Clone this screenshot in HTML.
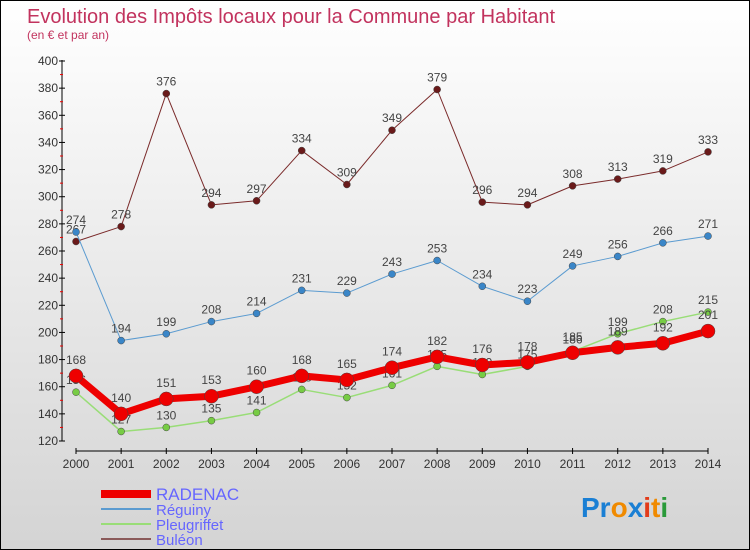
<!DOCTYPE html>
<html><head><meta charset="utf-8"><style>
body{margin:0}
#c{width:748px;height:548px;border:1px solid #000;background:linear-gradient(#fff,#d4d4d4);position:relative;overflow:hidden;font-family:"Liberation Sans",sans-serif}
</style></head><body>
<div id="c">
<svg id="s" width="748" height="548" xmlns="http://www.w3.org/2000/svg">
<text x="26" y="22" font-size="20" fill="#c2335e">Evolution des Impôts locaux pour la Commune par Habitant</text>
<text x="26" y="38" font-size="12" fill="#c2335e">(en € et par an)</text>
<g id="g"></g>
<text x="580" y="516" font-size="28" font-weight="bold"><tspan fill="#1a7fd4">Pr</tspan><tspan fill="#f08a00">o</tspan><tspan fill="#1a7fd4">x</tspan><tspan fill="#e23b1a">i</tspan><tspan fill="#f08a00">t</tspan><tspan fill="#2a9a3a">i</tspan></text>
</svg></div>
<script>
const years=[2000,2001,2002,2003,2004,2005,2006,2007,2008,2009,2010,2011,2012,2013,2014];
const buleon=[267,278,376,294,297,334,309,349,379,296,294,308,313,319,333];
const reguiny=[274,194,199,208,214,231,229,243,253,234,223,249,256,266,271];
const pleugriffet=[156,127,130,135,141,158,152,161,175,169,175,186,199,208,215];
const radenac=[168,140,151,153,160,168,165,174,182,176,178,185,189,192,201];
const yTicks=[120,140,160,180,200,220,240,260,280,300,320,340,360,380,400];
const NS="http://www.w3.org/2000/svg";
const g=document.getElementById('g');
const X=i=>75+i*(707-75)/(years.length-1);
const Y=v=>440-(v-120)*(380/280);
function el(t,a){const e=document.createElementNS(NS,t);for(const k in a)e.setAttribute(k,a[k]);g.appendChild(e);return e;}
let e=el('line',{x1:61,y1:59,x2:61,y2:440,stroke:'#000'});

yTicks.forEach((v,i)=>{
 let t=el('line',{x1:58,x2:64,y1:Y(v),y2:Y(v),stroke:'#000'});
 
 if(i<yTicks.length-1){let m=el('line',{x1:59,x2:62,y1:Y(v+10),y2:Y(v+10),stroke:'#e00'});
 }
 let l=el('text',{x:57,y:Y(v)+4,'font-size':12,'text-anchor':'end',fill:'#333'});l.textContent=v;
 
});
e=el('line',{x1:75,y1:450,x2:707,y2:450,stroke:'#000'});

years.forEach((y,i)=>{
 let t=el('line',{x1:X(i),x2:X(i),y1:447,y2:453,stroke:'#000'});
 
 let l=el('text',{x:X(i),y:467,'font-size':12,'text-anchor':'middle',fill:'#333'});l.textContent=y;
 
});
const series=[
 {n:'buleon',d:buleon,c:'#7a2a2a',f:'#6a1a1a',w:1,r:3.5},
 {n:'reguiny',d:reguiny,c:'#5b9bd0',f:'#3a86c8',w:1,r:3.5},
 {n:'pleugriffet',d:pleugriffet,c:'#99dd77',f:'#77cc44',w:1.5,r:3.5},
 {n:'radenac',d:radenac,c:'#ee0000',f:'#ee0000',w:7,r:7}];
series.forEach(s=>{
 let p=el('polyline',{points:s.d.map((v,i)=>X(i)+','+Y(v)).join(' '),fill:'none',stroke:s.c,'stroke-width':s.w,'stroke-linejoin':'round'});
 
 s.d.forEach((v,i)=>{
  let c=el('circle',{cx:X(i),cy:Y(v),r:s.r,fill:s.f,stroke:'#444','stroke-width':0.5});
  
  let l=el('text',{x:X(i),y:Y(v)-(s.n==='radenac'?12:8),'font-size':12,'text-anchor':'middle',fill:'#444'});l.textContent=v;
  
 });
});
const leg=[['RADENAC','#ee0000',8],['Réguiny','#5b9bd0',2],['Pleugriffet','#99dd77',2],['Buléon','#8a5a5a',2]];
leg.forEach((L,i)=>{
 let y=493+i*15;
 let ln=el('line',{x1:100,x2:150,y1:y,y2:y,stroke:L[1],'stroke-width':L[2]});
 
 let t=el('text',{x:155,y:y+6,'font-size':i==0?17:15,fill:'#6666ff'});t.textContent=L[0];
 
});
</script>
</body></html>
